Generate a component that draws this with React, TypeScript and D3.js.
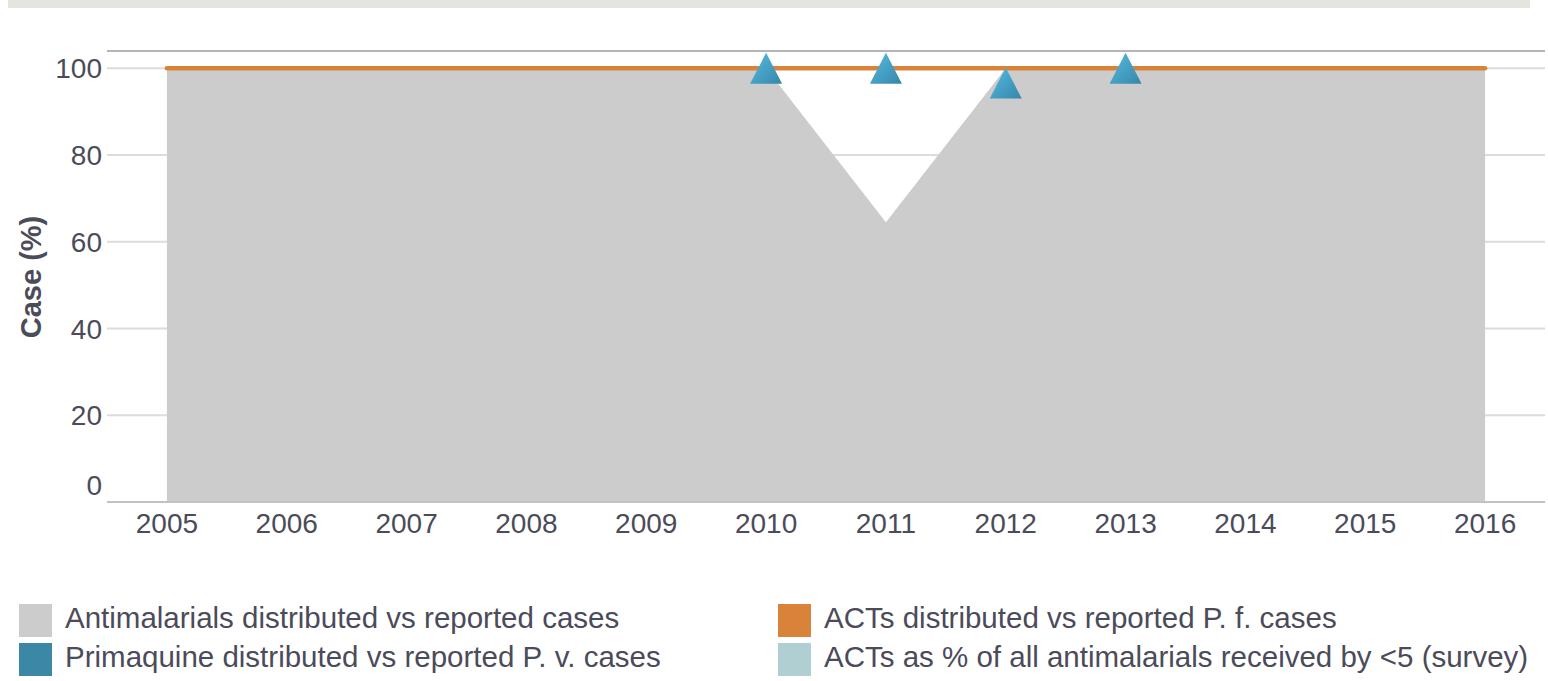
import React, { useRef, useEffect } from "react";
import * as d3 from "d3";

const years = ["2005", "2006", "2007", "2008", "2009", "2010", "2011", "2012", "2013", "2014", "2015", "2016"];
const antimalarials = [100, 100, 100, 100, 100, 100, 64.5, 100, 100, 100, 100, 100];
const acts = [100, 100, 100, 100, 100, 100, 100, 100, 100, 100, 100, 100];
const primaquine: (number | null)[] = [null, null, null, null, null, 100, 100, 96.6, 100, null, null, null];
const yTicks = [0, 20, 40, 60, 80, 100];

const legendItems = [
  { label: "Antimalarials distributed vs reported cases", color: "#cccccc" },
  { label: "ACTs distributed vs reported P. f. cases", color: "#d9833a" },
  { label: "Primaquine distributed vs reported P. v. cases", color: "#3a87a6" },
  { label: "ACTs as % of all antimalarials received by <5 (survey)", color: "#afcfd2" },
];

const FONT = "'Liberation Sans', Arial, Helvetica, sans-serif";
const TEXT = "#4b4b5a";

const Chart: React.FC = () => {
  const svgRef = useRef<SVGSVGElement | null>(null);

  useEffect(() => {
    if (!svgRef.current) return;
    const svg = d3.select(svgRef.current);
    svg.selectAll("*").remove();

    const left = 107;
    const right = 1545;
    const top = 51;
    const bottom = 502;

    const x = d3.scalePoint<string>().domain(years).range([left, right]).padding(0.5);
    const y = d3.scaleLinear().domain([0, 104]).range([bottom, top]);

    // top band
    svg.append("rect").attr("x", 8).attr("y", 0).attr("width", 1522).attr("height", 8).attr("fill", "#e5e4df");

    // grid
    svg
      .append("g")
      .selectAll("line")
      .data(yTicks.filter((t) => t > 0))
      .enter()
      .append("line")
      .attr("x1", left)
      .attr("x2", right)
      .attr("y1", (d) => y(d))
      .attr("y2", (d) => y(d))
      .attr("stroke", "#dcdcdc")
      .attr("stroke-width", 2);

    svg.append("line").attr("x1", left).attr("x2", right).attr("y1", top).attr("y2", top)
      .attr("stroke", "#b5b5b5").attr("stroke-width", 2);

    // area
    const area = d3
      .area<number>()
      .x((_, i) => x(years[i]) || 0)
      .y0(y(0))
      .y1((d) => y(d));
    svg.append("path").datum(antimalarials).attr("d", area).attr("fill", "#cccccc");

    // bottom axis line
    svg.append("line").attr("x1", left).attr("x2", right).attr("y1", bottom).attr("y2", bottom)
      .attr("stroke", "#c2c2c2").attr("stroke-width", 2);

    // ACT line
    const line = d3
      .line<number>()
      .x((_, i) => x(years[i]) || 0)
      .y((d) => y(d));
    svg.append("path").datum(acts).attr("d", line).attr("fill", "none")
      .attr("stroke", "#d9833a").attr("stroke-width", 4.5).attr("stroke-linecap", "round");

    // triangle markers
    const grad = svg.append("defs").append("linearGradient").attr("id", "triGrad")
      .attr("x1", "0%").attr("y1", "0%").attr("x2", "100%").attr("y2", "100%");
    grad.append("stop").attr("offset", "0%").attr("stop-color", "#55bde2");
    grad.append("stop").attr("offset", "100%").attr("stop-color", "#3686a8");

    const tw = 32;
    const th = 31;
    svg
      .append("g")
      .selectAll("path")
      .data(primaquine.map((v, i) => ({ v, year: years[i] })).filter((d) => d.v !== null))
      .enter()
      .append("path")
      .attr("d", (d) => {
        const cx = x(d.year) || 0;
        const cy = y(d.v as number);
        return `M${cx},${cy - th / 2}L${cx + tw / 2},${cy + th / 2}L${cx - tw / 2},${cy + th / 2}Z`;
      })
      .attr("fill", "url(#triGrad)");

    // y tick labels (the 0 label sits raised above the axis line)
    svg
      .append("g")
      .selectAll("text")
      .data(yTicks)
      .enter()
      .append("text")
      .attr("x", 102)
      .attr("y", (d) => (d === 0 ? y(d) - 7 : y(d) + 10))
      .attr("text-anchor", "end")
      .attr("font-family", FONT)
      .attr("font-size", 28)
      .attr("fill", TEXT)
      .text((d) => d);

    // x tick labels
    svg
      .append("g")
      .selectAll("text")
      .data(years)
      .enter()
      .append("text")
      .attr("x", (d) => x(d) || 0)
      .attr("y", 533)
      .attr("text-anchor", "middle")
      .attr("font-family", FONT)
      .attr("font-size", 28)
      .attr("fill", TEXT)
      .text((d) => d);

    // y axis title
    svg
      .append("text")
      .attr("transform", "translate(41,277) rotate(-90)")
      .attr("text-anchor", "middle")
      .attr("font-family", FONT)
      .attr("font-size", 29)
      .attr("font-weight", "bold")
      .attr("fill", TEXT)
      .text("Case (%)");

    // legend
    const lg = svg
      .append("g")
      .selectAll("g")
      .data(legendItems)
      .enter()
      .append("g")
      .attr("transform", (_, i) => `translate(${i % 2 === 0 ? 19 : 778},${i < 2 ? 604 : 643})`);
    lg.append("rect").attr("width", 33).attr("height", 33).attr("fill", (d) => d.color);
    lg.append("text")
      .attr("x", 46)
      .attr("y", 24)
      .attr("font-family", FONT)
      .attr("font-size", 29.5)
      .attr("fill", TEXT)
      .text((d) => d.label);
  }, []);

  return (
    <svg
      ref={svgRef}
      width={1548}
      height={681}
      style={{ position: "absolute", left: 0, top: 0, display: "block", background: "#fff" }}
    />
  );
};

export default function App() {
  return <Chart />;
}
